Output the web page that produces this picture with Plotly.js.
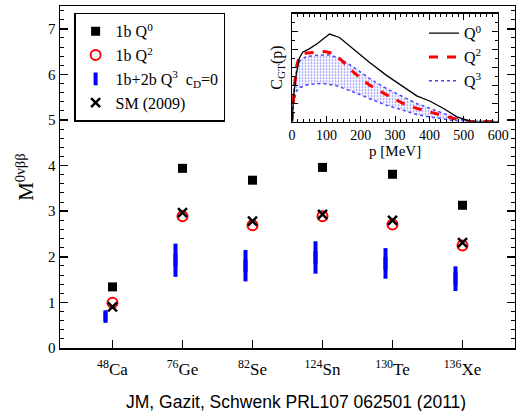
<!DOCTYPE html>
<html>
<head>
<meta charset="utf-8">
<script src="https://cdn.plot.ly/plotly-3.0.1.min.js"></script>
<style>html,body{margin:0;padding:0;background:#fff;}#chart{width:516px;height:411px;}</style>
</head>
<body>
<div id="chart"></div>
<script>
// ---- main panel data ----
const nuclei = ['<sup>48</sup>Ca', '<sup>76</sup>Ge', '<sup>82</sup>Se', '<sup>124</sup>Sn', '<sup>130</sup>Te', '<sup>136</sup>Xe'];
const q0 = [1.34, 3.94, 3.68, 3.96, 3.81, 3.13];
const q2 = [0.99, 2.89, 2.69, 2.89, 2.71, 2.25];
const sm2009 = [0.90, 2.97, 2.78, 2.93, 2.80, 2.31];
const q3Low = [0.58, 1.56, 1.46, 1.63, 1.52, 1.25];
const q3High = [0.80, 2.29, 2.15, 2.34, 2.19, 1.79];

// ---- inset data: C_GT(p) vs p [MeV] ----
const q0P = [0, 3, 5, 12, 21, 31, 50, 75, 109, 138, 177, 225, 274, 324, 363, 402, 441, 480, 518, 560, 600];
const q0C = [0, 0.08, 0.15, 0.258, 0.352, 0.385, 0.404, 0.435, 0.486, 0.467, 0.404, 0.329, 0.258, 0.194, 0.143, 0.113, 0.073, 0.026, 0.002, 0, 0];
const q2P = [0, 3, 7, 14, 21, 36, 70, 94, 118, 143, 177, 225, 274, 324, 363, 402, 441, 480, 518, 600];
const q2C = [0, 0.1, 0.203, 0.314, 0.361, 0.38, 0.383, 0.389, 0.38, 0.342, 0.277, 0.203, 0.15, 0.1, 0.073, 0.054, 0.032, 0.012, 0, 0];
const q3UpP = [0, 4, 10, 21, 41, 80, 109, 138, 177, 225, 274, 324, 363, 402, 441, 480, 518, 600];
const q3UpC = [0, 0.15, 0.26, 0.333, 0.361, 0.37, 0.37, 0.352, 0.305, 0.24, 0.184, 0.138, 0.1, 0.073, 0.045, 0.017, 0, 0];
const q3LoP = [0, 4, 12, 21, 50, 89, 128, 177, 225, 274, 324, 363, 402, 441, 480, 518, 600];
const q3LoC = [0, 0.09, 0.166, 0.188, 0.207, 0.212, 0.2, 0.166, 0.128, 0.091, 0.063, 0.039, 0.026, 0.013, 0.003, 0, 0];

const idx = nuclei.map((_, i) => i + 1);
const barOffset = -0.1;
const q3Mid = q3Low.map((lo, i) => (lo + q3High[i]) / 2);
const q3Half = q3Low.map((lo, i) => (q3High[i] - lo) / 2);

const serif = 'Liberation Serif, Times New Roman, serif';

const traces = [
  {
    x: idx, y: q0, type: 'scatter', mode: 'markers', name: '1b Q<sup>0</sup>',
    marker: {symbol: 'square', size: 9, color: 'black'}, legend: 'legend'
  },
  {
    x: idx, y: q2, type: 'scatter', mode: 'markers', name: '1b Q<sup>2</sup>',
    marker: {symbol: 'circle-open', size: 10, color: 'red', line: {width: 2, color: 'red'}}, legend: 'legend'
  },
  {
    x: idx.map(v => v + barOffset), y: q3Mid, type: 'scatter', mode: 'markers',
    name: '1b+2b Q<sup>3</sup>  c<sub>D</sub>=0',
    marker: {symbol: 'line-ns', size: 9, color: 'blue', line: {width: 4, color: 'blue'}},
    error_y: {type: 'data', array: q3Half, visible: true, thickness: 4, width: 0, color: 'blue'},
    legend: 'legend'
  },
  {
    x: idx, y: sm2009, type: 'scatter', mode: 'markers', name: 'SM (2009)',
    marker: {symbol: 'x-thin-open', size: 9, color: 'black', line: {width: 2.5, color: 'black'}}, legend: 'legend'
  },
  // inset
  {
    x: q3LoP, y: q3LoC, xaxis: 'x2', yaxis: 'y2', type: 'scatter', mode: 'lines', name: 'Q<sup>3</sup>',
    line: {color: 'rgb(70,70,255)', width: 1.5, dash: 'dot'}, legend: 'legend2', legendrank: 3
  },
  {
    x: q3UpP, y: q3UpC, xaxis: 'x2', yaxis: 'y2', type: 'scatter', mode: 'lines', showlegend: false,
    line: {color: 'rgb(70,70,255)', width: 1.5, dash: 'dot'}, fill: 'tonexty',
    fillcolor: 'rgba(0,0,0,0)',
    fillpattern: {shape: '.', fgcolor: 'rgb(120,120,255)', bgcolor: 'rgba(255,255,255,0)', size: 3, solidity: 0.25},
    legend: 'legend2'
  },
  {
    x: q2P, y: q2C, xaxis: 'x2', yaxis: 'y2', type: 'scatter', mode: 'lines', name: 'Q<sup>2</sup>',
    line: {color: 'red', width: 3, dash: 'dash'}, legend: 'legend2', legendrank: 2
  },
  {
    x: q0P, y: q0C, xaxis: 'x2', yaxis: 'y2', type: 'scatter', mode: 'lines', name: 'Q<sup>0</sup>',
    line: {color: 'black', width: 1.3}, legend: 'legend2', legendrank: 1
  }
];

const layout = {
  width: 516, height: 411,
  margin: {l: 60, r: 1, t: 6, b: 63},
  paper_bgcolor: 'white', plot_bgcolor: 'white',
  font: {family: serif, color: 'black', size: 15},
  showlegend: true,
  xaxis: {
    domain: [0, 1], range: [0.25, 6.75], tickmode: 'array', tickvals: idx, ticktext: nuclei,
    ticks: 'inside', ticklen: 8, tickwidth: 1.5, tickcolor: 'black', ticklabelstandoff: 5,
    showline: true, linewidth: 1.5, linecolor: 'black', mirror: true,
    showgrid: false, zeroline: false, tickfont: {family: serif, size: 17}
  },
  yaxis: {
    domain: [0, 1], range: [0, 7.5], dtick: 1, tick0: 0,
    ticks: 'inside', ticklen: 8, tickwidth: 1.5, tickcolor: 'black',
    minor: {dtick: 0.2, ticks: 'inside', ticklen: 4, tickwidth: 1, tickcolor: 'black', showgrid: false},
    showline: true, linewidth: 1.5, linecolor: 'black', mirror: 'ticks',
    showgrid: false, zeroline: false, tickfont: {family: serif, size: 15},
    title: {text: 'M<sup>0νββ</sup>', font: {family: serif, size: 21}, standoff: 8}
  },
  xaxis2: {
    anchor: 'y2', domain: [0.51, 0.963], range: [0, 600], dtick: 100, tick0: 0,
    ticks: 'inside', ticklen: 6, tickwidth: 1, tickcolor: 'black',
    minor: {dtick: 100 / 6, ticks: 'inside', ticklen: 3, tickwidth: 1, tickcolor: 'black', showgrid: false},
    showline: true, linewidth: 1.2, linecolor: 'black', mirror: 'ticks',
    showgrid: false, zeroline: false, tickfont: {family: serif, size: 14},
    title: {text: 'p [MeV]', font: {family: serif, size: 15}, standoff: 2}
  },
  yaxis2: {
    anchor: 'x2', domain: [0.662, 0.978], range: [0, 0.6], dtick: 0.1, tick0: 0,
    ticks: 'inside', ticklen: 6, tickwidth: 1, tickcolor: 'black',
    minor: {dtick: 0.05, ticks: 'inside', ticklen: 3, tickwidth: 1, tickcolor: 'black', showgrid: false},
    showline: true, linewidth: 1.2, linecolor: 'black', mirror: 'ticks',
    showgrid: false, zeroline: false, showticklabels: false,
    title: {text: 'C<sub>GT</sub>(p)', font: {family: serif, size: 16}, standoff: 4}
  },
  legend: {
    x: 0.031, y: 0.98, xanchor: 'left', yanchor: 'top',
    bgcolor: 'white', bordercolor: 'black', borderwidth: 1.5,
    font: {family: serif, size: 16}, tracegroupgap: 0, itemwidth: 30
  },
  legend2: {
    x: 0.80, y: 0.97, xanchor: 'left', yanchor: 'top',
    bgcolor: 'rgba(255,255,255,0)', borderwidth: 0,
    font: {family: serif, size: 16}, itemwidth: 30, traceorder: 'normal'
  },
  annotations: [{
    text: 'JM, Gazit, Schwenk PRL107 062501 (2011)', xref: 'paper', yref: 'paper',
    x: 0.519, y: -0.158, xanchor: 'center', yanchor: 'middle', showarrow: false,
    font: {family: 'Liberation Sans, Arial, sans-serif', size: 17.5, color: 'black'}
  }]
};

Plotly.newPlot('chart', traces, layout, {displayModeBar: false, staticPlot: true});
</script>
</body>
</html>
